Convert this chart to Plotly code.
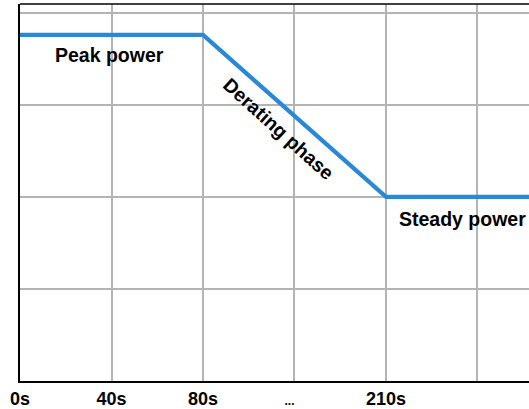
import plotly.graph_objects as go

# Data
time_labels = ["0s", "40s", "80s", "...", "210s", ""]
tick_positions = [0, 1, 2, 3, 4, 5]
curve_x = [0, 2, 4, 6]          # positions on the time axis (category index)
curve_power = [94, 94, 50, 50]  # relative power level
power_grid = [0, 25, 50, 75, 100]

FONT = "Liberation Sans, Arial, sans-serif"

fig = go.Figure()
fig.add_trace(go.Scatter(
    x=curve_x, y=curve_power, mode="lines",
    line=dict(color="#2a89d5", width=4.2),
    hoverinfo="skip", showlegend=False,
))

ticktext = [t if t != "..." else "<span style='font-size:12px'>...&nbsp;&nbsp;&nbsp;</span>"
            for t in time_labels]

fig.update_xaxes(
    range=[0, 5.563], tickvals=tick_positions, ticktext=ticktext,
    showgrid=True, gridcolor="#b4b4b4", gridwidth=1.5,
    showline=True, linecolor="black", linewidth=2,
    zeroline=False, ticks="",
    tickfont=dict(family=FONT, size=18, color="black", weight="bold"),
)
fig.update_yaxes(
    range=[0, 102.4], tickvals=power_grid, showticklabels=False,
    showgrid=True, gridcolor="#b4b4b4", gridwidth=1.5,
    showline=True, linecolor="black", linewidth=2,
    zeroline=False, ticks="",
)

ann_font = dict(family=FONT, size=19.5, color="black", weight="bold")
fig.add_annotation(x=0.98, y=88.6, text="Peak power", showarrow=False, font=ann_font)
fig.add_annotation(x=2.83, y=68.4, text="Derating phase", showarrow=False,
                   textangle=42, font=ann_font)
fig.add_annotation(x=4.12, y=44, text="Steady power", showarrow=False,
                   xanchor="left", font=ann_font)

fig.add_shape(type="line", xref="paper", yref="paper", x0=0, x1=1, y0=1, y1=1,
              line=dict(color="black", width=1.5))

fig.update_layout(
    width=529, height=409,
    margin=dict(l=20, r=0, t=4, b=26),
    plot_bgcolor="white", paper_bgcolor="white",
)

fig.write_html("out.html", config={"displayModeBar": False},
               post_script="document.body.style.margin='0';")
